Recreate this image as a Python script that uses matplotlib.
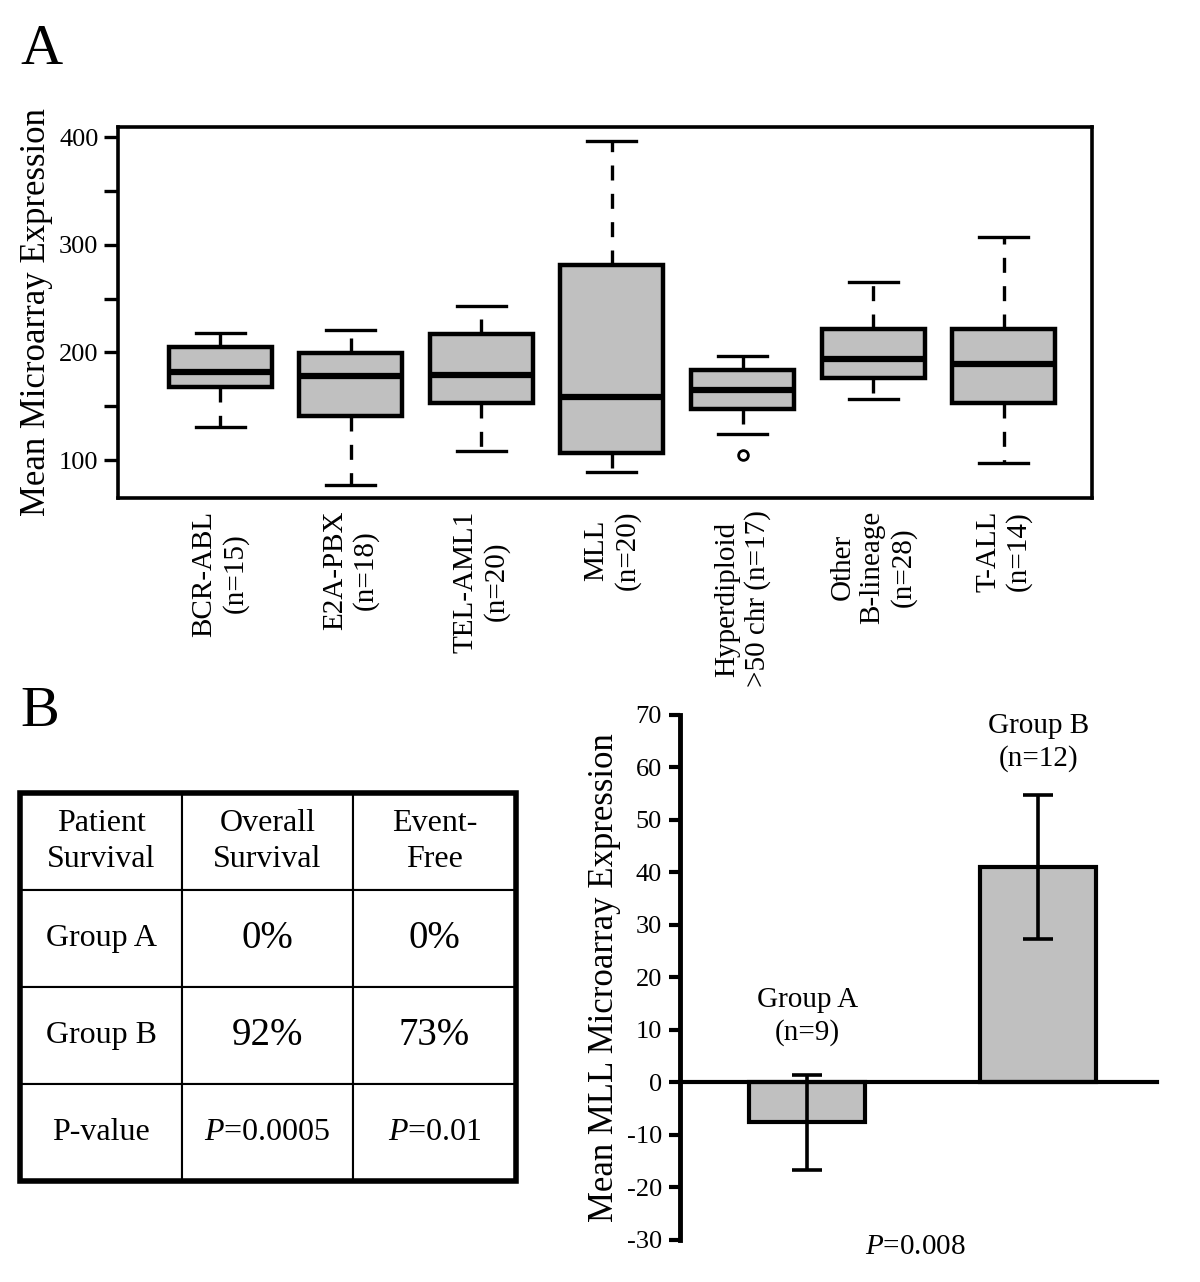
import matplotlib
matplotlib.use("Agg")
import matplotlib.pyplot as plt
import numpy as np
from matplotlib.patches import Rectangle

plt.rcParams['font.family'] = ['Liberation Serif', 'DejaVu Serif']
plt.rcParams['mathtext.fontset'] = 'custom'
plt.rcParams['mathtext.rm'] = 'Liberation Serif'
plt.rcParams['mathtext.it'] = 'Liberation Serif:italic'
plt.rcParams['axes.unicode_minus'] = False

# panel A data: box plot statistics
groups = ['BCR-ABL\n(n=15)', 'E2A-PBX\n(n=18)', 'TEL-AML1\n(n=20)', 'MLL\n(n=20)',
          'Hyperdiploid\n>50 chr (n=17)', 'Other\nB-lineage\n(n=28)', 'T-ALL\n(n=14)']
whislo = [131, 77, 108, 89, 124, 157, 97]
q1 = [168, 141, 153, 107, 147, 176, 153]
med = [182, 178, 179, 159, 165, 194, 189]
q3 = [205, 199, 217, 281, 184, 222, 222]
whishi = [218, 221, 243, 396, 197, 265, 307]
fliers = [[], [], [], [], [105], [], []]

# panel B data
bar_groups = ['Group A\n(n=9)', 'Group B\n(n=12)']
bar_means = [-7.6, 41.0]
bar_err = [9.0, 13.7]
p_bar = '$P$=0.008'

# table data
table_rows = [['Patient\nSurvival', 'Overall\nSurvival', 'Event-\nFree'],
              ['Group A', '0%', '0%'],
              ['Group B', '92%', '73%'],
              ['P-value', '$P$=0.0005', '$P$=0.01']]

grey = '#c0c0c0'
fig = plt.figure(figsize=(12, 12.82), dpi=100)

# ---------- Panel A ----------
axA = fig.add_axes([0.0983, 0.6115, 0.8117, 0.2894])
stats = []
for i in range(len(groups)):
    stats.append(dict(whislo=whislo[i], q1=q1[i], med=med[i], q3=q3[i],
                      whishi=whishi[i], fliers=fliers[i]))
pos = np.arange(1, len(groups) + 1)
axA.bxp(stats, positions=pos, widths=0.79, capwidths=0.375, patch_artist=True,
        showfliers=True,
        boxprops=dict(facecolor=grey, edgecolor='black', linewidth=3.2),
        medianprops=dict(color='black', linewidth=4.5, solid_capstyle='butt'),
        whiskerprops=dict(color='black', linewidth=2.4, linestyle=(0, (4.5, 4))),
        capprops=dict(color='black', linewidth=2.4),
        flierprops=dict(marker='o', markersize=7, markerfacecolor='white',
                        markeredgecolor='black', markeredgewidth=2))
axA.set_xlim(0.218, 7.676)
axA.set_ylim(64.7, 409.3)
axA.set_yticks(np.arange(100, 401, 50))
axA.set_yticklabels(['100', '', '200', '', '300', '', '400'], fontsize=19)
axA.set_xticks(pos)
axA.set_xticklabels(groups, rotation=90, fontsize=21, va='top', ha='center',
                    multialignment='center')
axA.tick_params(axis='x', length=0, pad=9)
axA.tick_params(axis='y', length=10, width=2.4, pad=4)
for s in axA.spines.values():
    s.set_linewidth(2.6)
axA.set_ylabel('Mean Microarray Expression', fontsize=25, labelpad=4)

# ---------- Panel B bar chart ----------
axB = fig.add_axes([0.5667, 0.0328, 0.3975, 0.4095])
xb = np.arange(len(bar_groups))
axB.bar(xb, bar_means, width=0.5, color=grey, edgecolor='black', linewidth=3,
        zorder=2)
axB.errorbar(xb, bar_means, yerr=bar_err, fmt='none', ecolor='black',
             elinewidth=2.6, capsize=11, capthick=2.6, zorder=3)
axB.set_xlim(-0.55, 1.515)
axB.set_ylim(-30, 70)
axB.set_yticks(np.arange(-30, 71, 10))
axB.tick_params(axis='y', labelsize=19, length=8, width=3, pad=5)
axB.spines['left'].set_linewidth(3.5)
axB.spines['bottom'].set_position(('data', 0))
axB.spines['bottom'].set_linewidth(3)
axB.spines['top'].set_visible(False)
axB.spines['right'].set_visible(False)
axB.set_xticks([])
axB.set_ylabel('Mean MLL Microarray Expression', fontsize=25, labelpad=4)
ann_y = [12.6, 64.8]
for x, lab, y in zip(xb, bar_groups, ann_y):
    axB.text(x, y, lab, ha='center', va='center', fontsize=21, linespacing=1.3)
axB.text(0.47, -31.3, p_bar, ha='center', va='center', fontsize=21, clip_on=False)

# ---------- Panel B table ----------
axT = fig.add_axes([0.0167, 0.0788, 0.4133, 0.3027])
axT.axis('off')
tbl = axT.table(cellText=table_rows, cellLoc='center', bbox=[0, 0, 1, 1],
                colWidths=[162, 171, 163])
tbl.auto_set_font_size(False)
for (r, c), cell in tbl.get_celld().items():
    cell.set_linewidth(1.5)
    txt = cell.get_text()
    if r in (1, 2) and c > 0:
        txt.set_fontsize(28)
    else:
        txt.set_fontsize(23)
    txt.set_linespacing(1.35)
axT.add_patch(Rectangle((0, 0), 1, 1, transform=axT.transAxes, fill=False,
                        linewidth=4, edgecolor='black', clip_on=False))

# panel letters
fig.text(0.017, 1 - 64 / 1282, 'A', fontsize=42, va='baseline', ha='left')
fig.text(0.017, 1 - 726 / 1282, 'B', fontsize=42, va='baseline', ha='left')

fig.savefig('out.png', dpi=100)
